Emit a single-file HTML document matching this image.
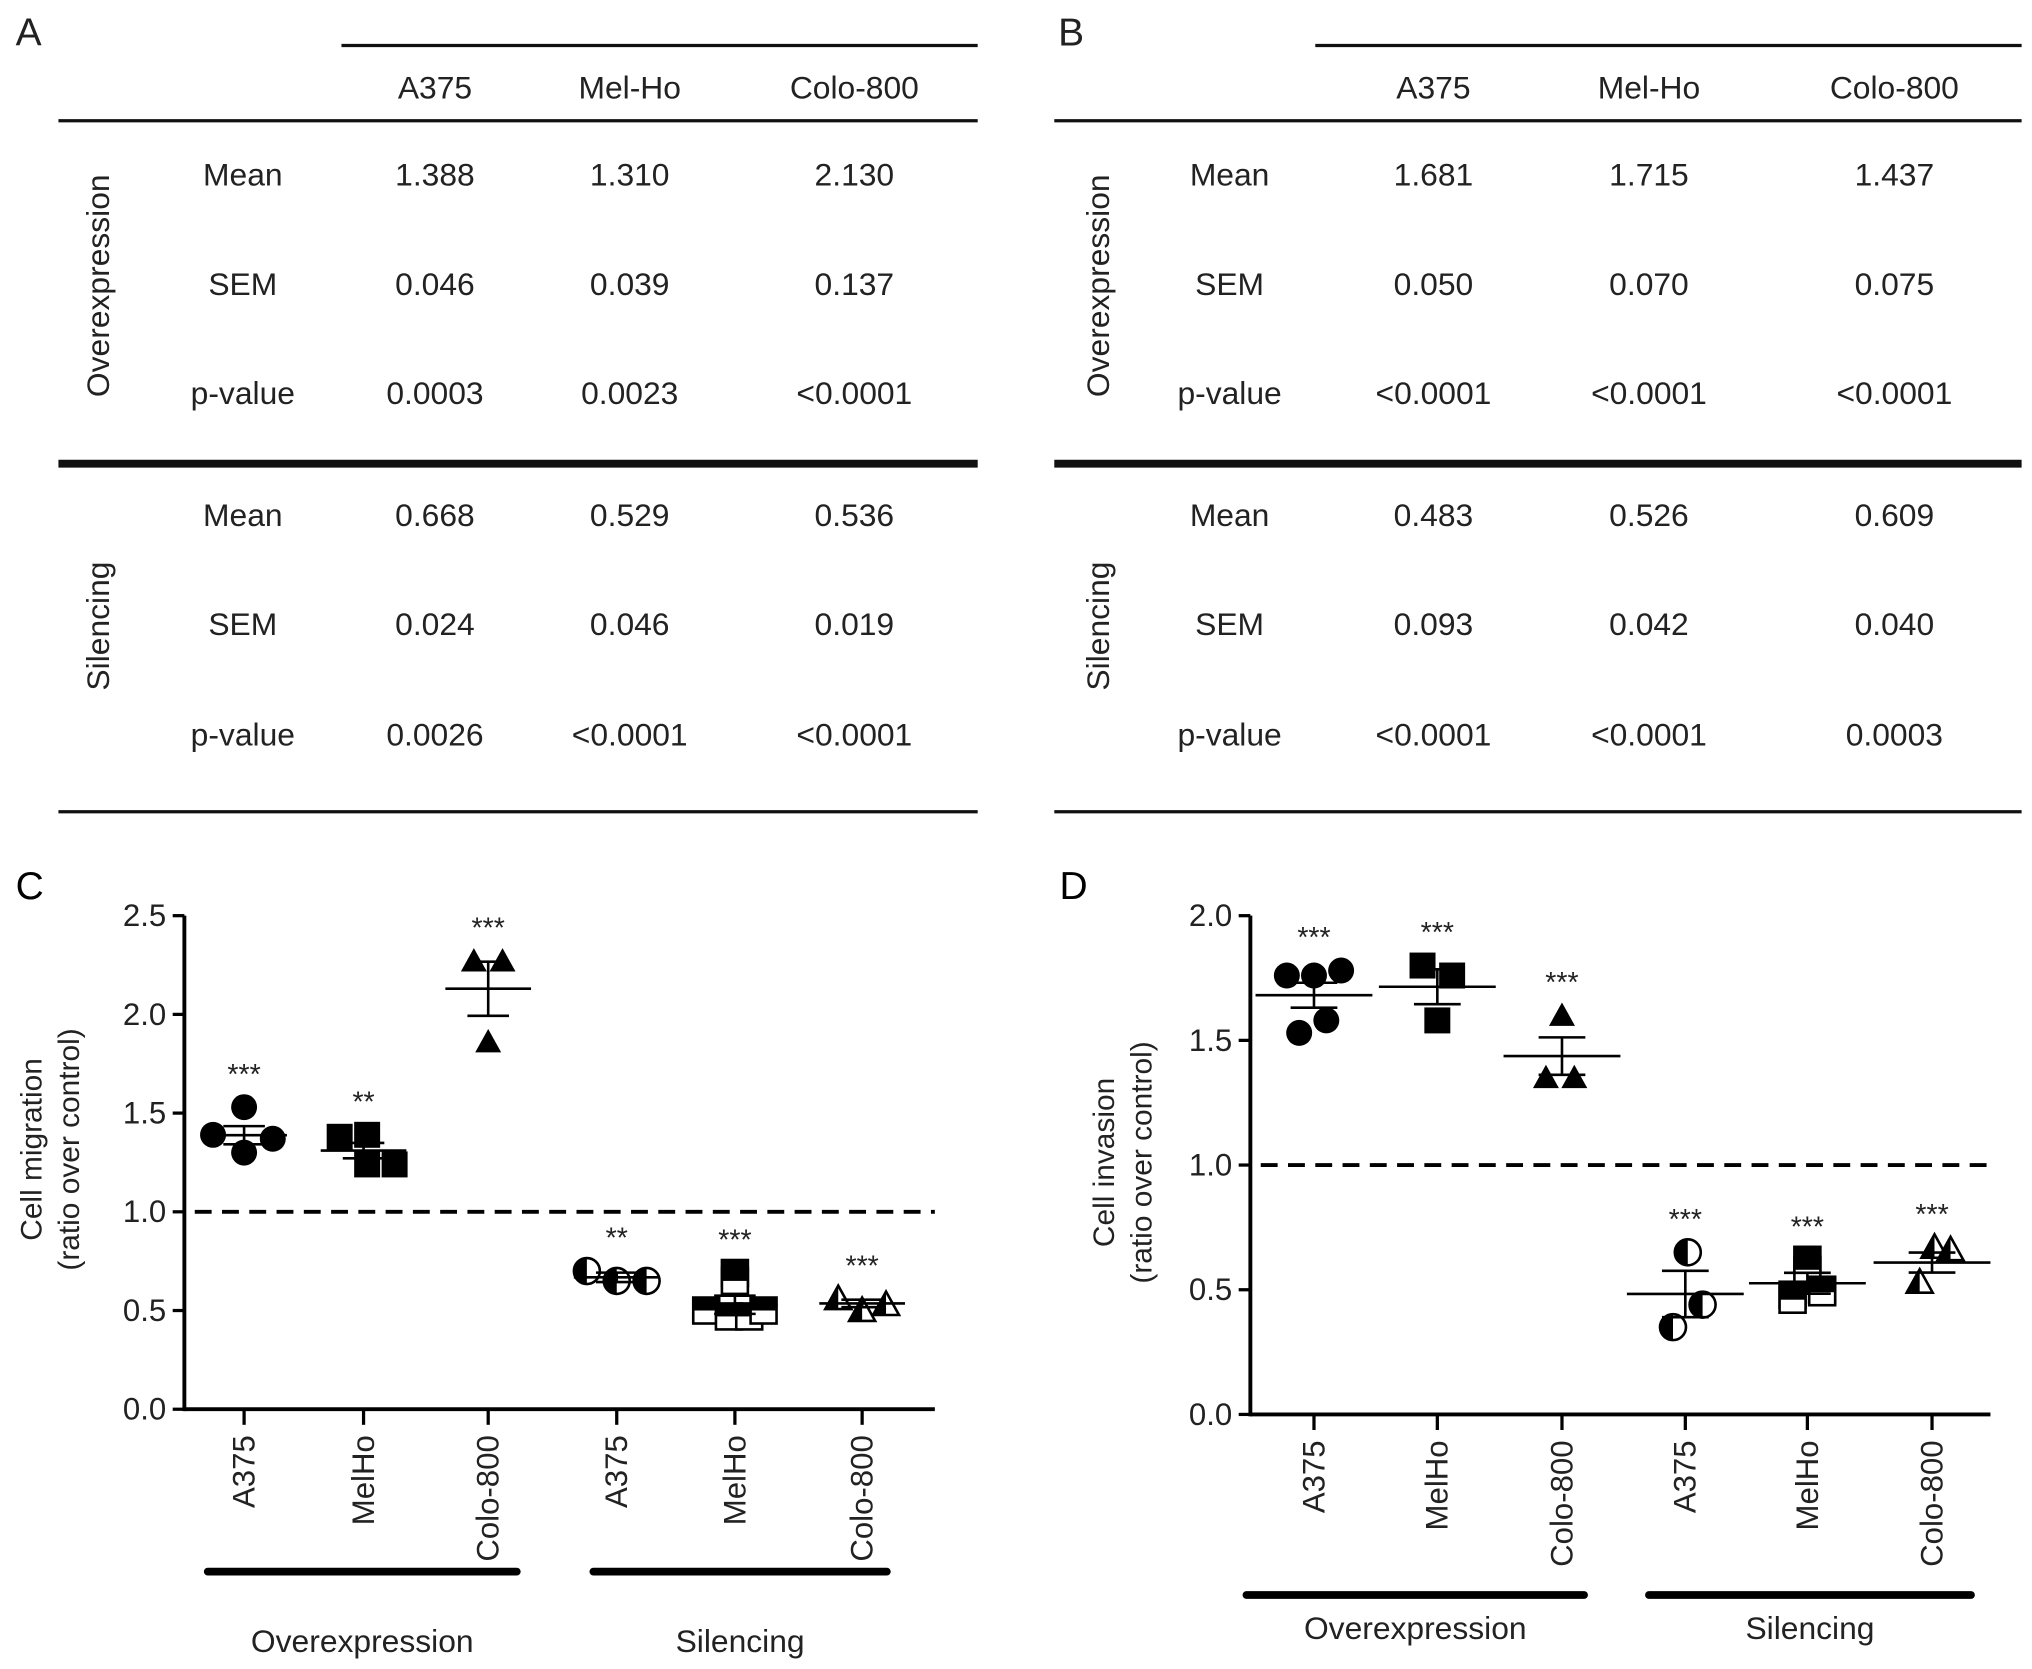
<!DOCTYPE html>
<html><head><meta charset="utf-8"><style>
html,body{margin:0;padding:0;background:#fff}
svg{display:block;font-family:"Liberation Sans",Arial,sans-serif}
</style></head><body>
<svg id="fig" width="2032" height="1669" viewBox="0 0 1565 1285" preserveAspectRatio="none" xmlns="http://www.w3.org/2000/svg">
<rect width="1565" height="1285" fill="#fff"/>
<g id="tables" font-size="24.5" fill="#222"></g>
<g id="chartC"></g>
<g id="chartD"></g>
</svg>
<script>
// ---- Table data ----
const tableRowsLabels = ["Mean","SEM","p-value"];
const tableCols = ["A375","Mel-Ho","Colo-800"];
const tableA_over = [["1.388","1.310","2.130"],["0.046","0.039","0.137"],["0.0003","0.0023","<0.0001"]];
const tableA_sil = [["0.668","0.529","0.536"],["0.024","0.046","0.019"],["0.0026","<0.0001","<0.0001"]];
const tableB_over = [["1.681","1.715","1.437"],["0.050","0.070","0.075"],["<0.0001","<0.0001","<0.0001"]];
const tableB_sil = [["0.483","0.526","0.609"],["0.093","0.042","0.040"],["<0.0001","<0.0001","0.0003"]];

// ---- Chart data ----
const categories = ["A375","MelHo","Colo-800","A375","MelHo","Colo-800"];
const groups = ["Overexpression","Silencing"];
const cMeans = [1.388,1.310,2.130,0.668,0.529,0.536];
const cSems = [0.046,0.039,0.137,0.024,0.046,0.019];
const cPoints = [[1.39,1.53,1.30,1.37],[1.38,1.39,1.24,1.24],[2.27,2.27,1.86],[0.70,0.65,0.65],[0.69,0.65,0.50,0.47,0.47,0.50],[0.56,0.50,0.53]];
const cStars = ["***","**","***","**","***","***"];
const cTicks = ["0.0","0.5","1.0","1.5","2.0","2.5"];
const dMeans = [1.681,1.715,1.437,0.483,0.526,0.609];
const dSems = [0.050,0.070,0.075,0.093,0.042,0.040];
const dPoints = [[1.76,1.76,1.78,1.53,1.58],[1.80,1.76,1.58],[1.60,1.35,1.35],[0.65,0.44,0.35],[0.62,0.58,0.48,0.46,0.50,0.49],[0.67,0.66,0.53]];
const dStars = ["***","***","***","***","***","***"];
const dTicks = ["0.0","0.5","1.0","1.5","2.0"];

// horizontal jitter (fraction of category spacing) — layout only
const jitC=[[-0.26,0,0,0.24],[-0.2,0.03,0.03,0.26],[-0.12,0.12,0],[-0.25,0,0.25],[0,0,-0.24,-0.05,0.12,0.24],[-0.2,0,0.2]];
const jitD=[[-0.22,0,0.22,-0.12,0.1],[-0.12,0.12,0],[0,-0.13,0.1],[0.02,0.14,-0.1],[0,0,-0.12,-0.12,0.12,0.12],[0.02,0.15,-0.1]];

const NS="http://www.w3.org/2000/svg";
function mk(tag,attrs,parent,text){const e=document.createElementNS(NS,tag);for(const k in attrs)e.setAttribute(k,attrs[k]);if(text!==undefined)e.textContent=text;parent.appendChild(e);return e;}

const T=document.getElementById('tables');
function table(letter,lx,x0,xTop,xEnd,colX,labX,rotX,over,sil){
  const t=mk('text',{x:lx,y:35,'font-size':30},T,letter);
  
  
  mk('line',{x1:xTop,x2:xEnd,y1:35,y2:35,stroke:'#111','stroke-width':2.5},T);
  mk('line',{x1:x0,x2:xEnd,y1:93,y2:93,stroke:'#111','stroke-width':2.5},T);
  mk('line',{x1:x0,x2:xEnd,y1:357,y2:357,stroke:'#111','stroke-width':6},T);
  mk('line',{x1:x0,x2:xEnd,y1:625,y2:625,stroke:'#111','stroke-width':2.5},T);
  tableCols.forEach((c,i)=>{const h=mk('text',{x:colX[i],y:76,'text-anchor':'middle'},T,c);
    
    });
  const sections=[[over,[135,219,303],220,'Overexpression'],[sil,[397,481,566],482,'Silencing']];
  sections.forEach(([vals,ys,cy,name])=>{
    const r=mk('text',{x:0,y:0,'text-anchor':'middle',transform:`translate(${rotX},${cy}) rotate(-90)`},T,name);
    
    
    ys.forEach((y,ri)=>{
      const l=mk('text',{x:labX,y:y+8,'text-anchor':'middle'},T,tableRowsLabels[ri]);
      
      
      vals[ri].forEach((v,ci)=>{const c=mk('text',{x:colX[ci],y:y+8,'text-anchor':'middle'},T,v);
        
        });
    });
  });
}
table('A',12,45,263,753,[335,485,658],187,84,tableA_over,tableA_sil);
table('B',815,812,1013,1557,[1104,1270,1459],947,854,tableB_over,tableB_sil);

const shapes=['circle','square','triangle','circle','square','triangle'];
function marker(g,shape,x,y,half,s){
  let el;
  if(shape==='circle'){
    if(half){
      mk('circle',{cx:x,cy:y,r:s,fill:'#fff',stroke:'#000','stroke-width':2},g);
      el=mk('path',{d:`M${x},${y-s} A${s},${s} 0 0 0 ${x},${y+s} Z`,fill:'#000'},g);
    } else el=mk('circle',{cx:x,cy:y,r:s,fill:'#000'},g);
  } else if(shape==='square'){
    if(half){
      mk('rect',{x:x-s,y:y-s,width:2*s,height:2*s,fill:'#fff',stroke:'#000','stroke-width':2},g);
      el=mk('rect',{x:x-s,y:y-s,width:2*s,height:s,fill:'#000'},g);
    } else el=mk('rect',{x:x-s,y:y-s,width:2*s,height:2*s,fill:'#000'},g);
  } else {
    const p=`${x},${y-s} ${x-s},${y+s*0.8} ${x+s},${y+s*0.8}`;
    if(half){
      mk('polygon',{points:p,fill:'#fff',stroke:'#000','stroke-width':2},g);
      el=mk('polygon',{points:`${x},${y-s} ${x-s},${y+s*0.8} ${x},${y+s*0.8}`,fill:'#000'},g);
    } else el=mk('polygon',{points:p,fill:'#000'},g);
  }
  
  
}
function chart(gid,o){
  const g=document.getElementById(gid);
  const y=v=>o.y0-(v/o.yMax)*(o.y0-o.yTop);
  const step=o.cx[1]-o.cx[0];
  const lt=mk('text',{x:o.lx,y:o.ly,'font-size':30},g,o.letter);
  
  
  const ya=mk('line',{x1:o.ax,x2:o.ax,y1:o.yTop,y2:o.y0+1.5,stroke:'#000','stroke-width':3},g);
  
  
  const xa=mk('line',{x1:o.ax,x2:o.xEnd,y1:o.y0,y2:o.y0,stroke:'#000','stroke-width':3},g);
  
  
  o.ticks.forEach(t=>{const v=parseFloat(t);const yy=y(v);
    mk('line',{x1:o.ax-9,x2:o.ax,y1:yy,y2:yy,stroke:'#000','stroke-width':2.5},g);
    const tl=mk('text',{x:o.ax-14,y:yy+8,'text-anchor':'end','font-size':24,fill:'#222'},g,t);
    
    });
  const yt=mk('text',{transform:`translate(${o.ytx},${o.yty}) rotate(-90)`,'text-anchor':'middle','font-size':23,fill:'#222'},g);
  
  
  mk('tspan',{x:0,dy:0},yt,o.title);
  mk('tspan',{x:0,dy:29},yt,'(ratio over control)');
  const dl=mk('line',{x1:o.ax+8,x2:o.xEnd,y1:y(1),y2:y(1),stroke:'#000','stroke-width':3,'stroke-dasharray':'13,8'},g);
  
  
  categories.forEach((c,i)=>{
    const x=o.cx[i];
    mk('line',{x1:x,x2:x,y1:o.y0,y2:o.y0+12,stroke:'#000','stroke-width':2.5},g);
    const tl=mk('text',{transform:`translate(${x+8},${o.y0+20}) rotate(-90)`,'text-anchor':'end','font-size':24,fill:'#222'},g,c);
    
    
    const pts=o.points[i];
    const j=o.jit[i];
    pts.forEach((v,k)=>marker(g,shapes[i],x+(j[k]||0)*step,y(v),i>=3,o.ms));
    const m=o.means[i],s=o.sems[i];
    const mline=mk('line',{x1:x-o.mw,x2:x+o.mw,y1:y(m),y2:y(m),stroke:'#000','stroke-width':2},g);
    
    
    const eb=mk('path',{d:`M${x},${y(m+s)}V${y(m-s)}M${x-o.ew},${y(m+s)}H${x+o.ew}M${x-o.ew},${y(m-s)}H${x+o.ew}`,stroke:'#000','stroke-width':2,fill:'none'},g);
    
    
    const top=Math.max(...pts,m+s);
    const st=mk('text',{x:x,y:y(top)-o.ms-8,'text-anchor':'middle','font-size':22,fill:'#222'},g,o.stars[i]);
    
    
  });
  groups.forEach((gn,i)=>{
    const [a,b]=o.bars[i];
    const br=mk('line',{x1:a,x2:b,y1:o.barY,y2:o.barY,stroke:'#000','stroke-width':6,'stroke-linecap':'round'},g);
    
    
    const gl=mk('text',{x:(a+b)/2,y:o.glY,'text-anchor':'middle','font-size':24.5,fill:'#222'},g,gn);
    
    
  });
}
chart('chartC',{letter:'C',lx:12,ly:692,ax:142,y0:1085,yTop:705,yMax:2.5,xEnd:720,cx:[188,280,376,475,566,664],
  ticks:cTicks,points:cPoints,means:cMeans,sems:cSems,stars:cStars,jit:jitC,title:'Cell migration',ytx:32,yty:885,
  ms:10,mw:33,ew:16,bars:[[160,398],[457,683]],barY:1210,glY:1272});
chart('chartD',{letter:'D',lx:816,ly:692,ax:963,y0:1089,yTop:705,yMax:2.0,xEnd:1533,cx:[1012,1107,1203,1298,1392,1488],
  ticks:dTicks,points:dPoints,means:dMeans,sems:dSems,stars:dStars,jit:jitD,title:'Cell invasion',ytx:858,yty:895,
  ms:10,mw:45,ew:18,bars:[[960,1220],[1270,1518]],barY:1228,glY:1262});
</script>
</body></html>
